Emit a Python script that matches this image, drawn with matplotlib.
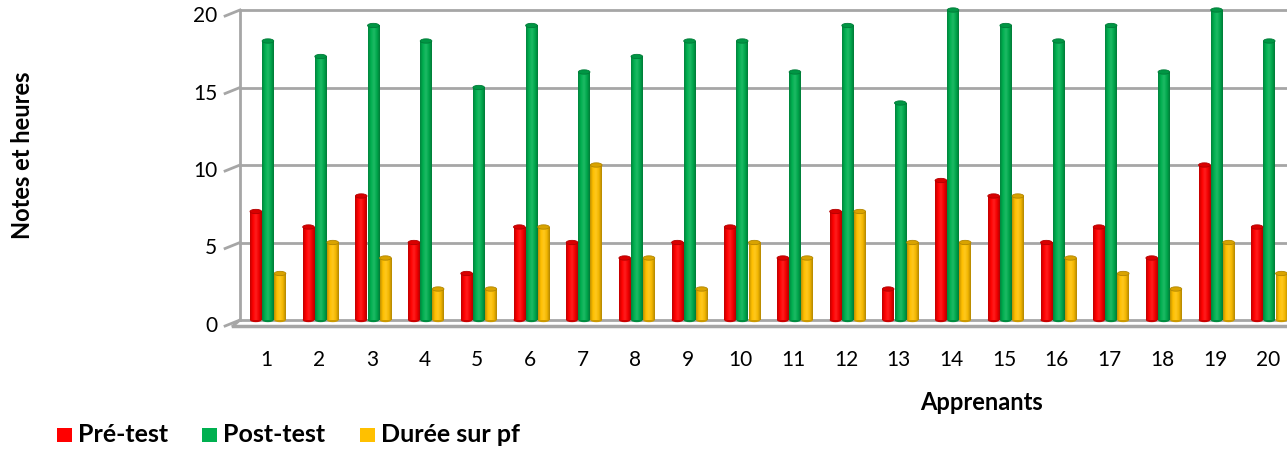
import numpy as np
import matplotlib
matplotlib.use("Agg")
from matplotlib import pyplot as plt
from matplotlib.colors import LinearSegmentedColormap, to_rgb
from matplotlib.patches import Ellipse, Rectangle

plt.rcParams['font.family'] = ['Lato', 'DejaVu Sans']

apprenants = list(range(1, 21))
pre_test = [7, 6, 8, 5, 3, 6, 5, 4, 5, 6, 4, 7, 2, 9, 8, 5, 6, 4, 10, 6]
post_test = [18, 17, 19, 18, 15, 19, 16, 17, 18, 18, 16, 19, 14, 20, 19, 18, 19, 16, 20, 18]
duree_pf = [3, 5, 4, 2, 2, 6, 10, 4, 2, 5, 4, 7, 5, 5, 8, 4, 3, 2, 5, 3]

series = [("Pré-test", pre_test, "#FF0000"),
          ("Post-test", post_test, "#00B050"),
          ("Durée sur pf", duree_pf, "#FFC000")]
offsets = [-0.2, 0.03, 0.26]
width = 0.22


def shade(c, f):
    r, g, b = to_rgb(c)
    if f < 1:
        return (r * f, g * f, b * f)
    return (r + (1 - r) * (f - 1), g + (1 - g) * (f - 1), b + (1 - b) * (f - 1))


fig = plt.figure(figsize=(12.87, 4.49), dpi=100)
W, H = 1287, 449
left, right, top, bottom = 240, 1294, 10, 320
ax = fig.add_axes([left / W, 1 - bottom / H, (right - left) / W, (bottom - top) / H])
ax.set_xlim(0.5, 20.5)
ax.set_ylim(0, 20)
for s in ax.spines.values():
    s.set_visible(False)
ax.set_xticks([])
ax.set_yticks([])

grid_c = "#A6A6A6"
ppx = (right - left) / 20.0      # pixels per x unit
ppy = (bottom - top) / 20.0      # pixels per y unit
dx = 7 / ppx
dy = 6 / ppy
for v in range(0, 21, 5):
    ax.plot([0.5, 20.5], [v, v], color=grid_c, lw=2, zorder=1, clip_on=False)
    ax.plot([0.5 - dx - 0.15, 0.5], [v - dy, v], color=grid_c, lw=2, zorder=1, clip_on=False)
    ax.text(0.5 - dx - 0.3, v - dy, str(v), ha="right", va="center", fontsize=15, clip_on=False)
ax.plot([0.5, 0.5], [0, 20], color=grid_c, lw=2, zorder=1, clip_on=False)
ax.plot([0.5 - dx, 20.5], [-dy, -dy], color=grid_c, lw=2.5, zorder=1, clip_on=False)
ax.plot([0.5 - dx, 0.5], [-dy, 0], color=grid_c, lw=2, zorder=1, clip_on=False)

for a in apprenants:
    ax.text(a, -40 / ppy, str(a), ha="center", va="center", fontsize=15, clip_on=False)

for (name, vals, col), off in zip(series, offsets):
    cmap = LinearSegmentedColormap.from_list(
        name, [shade(col, 0.75), shade(col, 1.0), shade(col, 1.12), shade(col, 0.95), shade(col, 0.7)])
    grad = np.linspace(0, 1, 64).reshape(1, -1)
    for a, v in zip(apprenants, vals):
        x0 = a + off - width / 2
        im = ax.imshow(grad, cmap=cmap, extent=(x0, x0 + width, 0, v), aspect="auto",
                       zorder=3, interpolation="bilinear")
        im.set_clip_on(False)
        ax.add_patch(Ellipse((a + off, v), width, 0.28, facecolor=shade(col, 0.85),
                             edgecolor=shade(col, 0.7), lw=0.6, zorder=4, clip_on=False))
        ax.add_patch(Ellipse((a + off, 0), width, 0.28, facecolor=shade(col, 0.8),
                             edgecolor="none", zorder=2, clip_on=False))

ax.set_xlim(0.5, 20.5)
ax.set_ylim(0, 20)

fig.text(22 / W, 1 - 155 / H, "Notes et heures", rotation=90, ha="center", va="center",
         fontsize=17, fontweight="bold")
fig.text(982 / W, 1 - 402 / H, "Apprenants", ha="center", va="center",
         fontsize=17, fontweight="bold")

lx = [57, 202, 360]
for (name, vals, col), x in zip(series, lx):
    fig.patches.append(Rectangle((x / W, 1 - 442 / H), 15 / W, 14 / H, facecolor=col,
                                 edgecolor="none", transform=fig.transFigure, figure=fig))
    fig.text((x + 21) / W, 1 - 435 / H, name, ha="left", va="center",
             fontsize=18, fontweight="bold")

fig.savefig("out.png", dpi=100)
